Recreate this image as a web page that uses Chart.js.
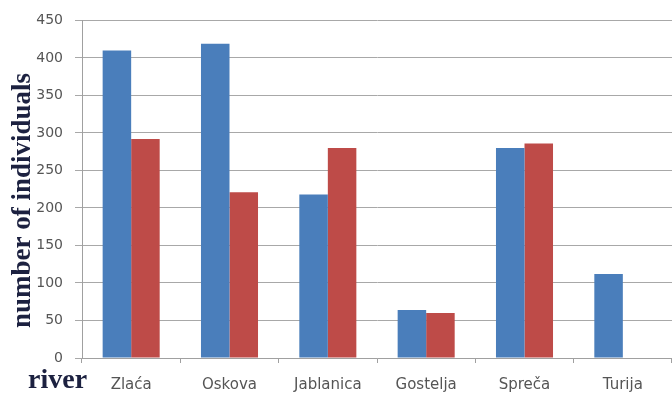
<!DOCTYPE html>
<html>
<head>
<meta charset="utf-8">
<script src="https://cdn.jsdelivr.net/npm/chart.js@4.4.1/dist/chart.umd.min.js"></script>
<style>
  html, body { margin: 0; padding: 0; background: #fff; }
  #wrap { width: 672px; height: 394px; }
</style>
</head>
<body>
<div id="wrap"><canvas id="myChart" width="672" height="394"></canvas></div>
<script>
const RIVERS = ["Zlaća", "Oskova", "Jablanica", "Gostelja", "Spreča", "Turija"];
const BLUE_VALUES = [410, 419, 218, 64, 280, 112];
const RED_VALUES = [292, 221, 280, 60, 286, 0];
const Y_TICKS = [0, 50, 100, 150, 200, 250, 300, 350, 400, 450];

const TITLE_COLOR = '#1c2140';
const LABEL_COLOR = '#555555';

// axis captions: the rotated y title sits a bit above the plot's middle,
// and "river" sits at the bottom-left under the tick labels
const captions = {
    id: 'captions',
    afterDraw(chart) {
        const c = chart.ctx;
        const area = chart.chartArea;
        c.save();
        c.fillStyle = TITLE_COLOR;
        c.font = 'bold 27px "Liberation Serif"';
        c.translate(23, area.bottom - 30);
        c.rotate(-Math.PI / 2);
        c.textAlign = 'left';
        c.textBaseline = 'middle';
        c.fillText('number of individuals', 0, 0);
        c.restore();

        c.save();
        c.font = 'bold 28px "Liberation Serif"';
        c.fillStyle = TITLE_COLOR;
        c.textAlign = 'left';
        c.textBaseline = 'alphabetic';
        c.fillText('river', 28, 388);
        c.restore();
    }
};

const ctx = document.querySelector('#myChart');

var chart = new Chart(ctx, {
    type: 'bar',
    data: {
        labels: RIVERS,
        datasets: [{
            data: BLUE_VALUES,
            backgroundColor: '#4a7ebb'
        }, {
            data: RED_VALUES,
            backgroundColor: '#be4b48'
        }]
    },
    options: {
        responsive: false,
        animation: false,
        layout: { padding: { top: 12, right: 0, bottom: 0, left: 0 } },
        datasets: {
            bar: { categoryPercentage: 0.58, barPercentage: 1.0 }
        },
        plugins: {
            legend: { display: false },
            tooltip: { enabled: false }
        },
        scales: {
            x: {
                grid: {
                    offset: true,
                    drawOnChartArea: false,
                    drawTicks: true,
                    tickLength: 5,
                    color: '#a0a0a0'
                },
                border: { color: '#a0a0a0' },
                ticks: {
                    color: LABEL_COLOR,
                    font: { family: '"DejaVu Sans"', size: 15 },
                    padding: 13,
                    maxRotation: 0
                },
                afterFit(scale) { scale.height = 36; }
            },
            y: {
                min: 0,
                max: 450,
                afterBuildTicks(scale) {
                    scale.ticks = Y_TICKS.map(v => ({ value: v }));
                },
                grid: {
                    color: '#a8a8a8',
                    tickLength: 7
                },
                border: { color: '#a0a0a0' },
                ticks: {
                    color: LABEL_COLOR,
                    font: { family: '"DejaVu Sans"', size: 14 },
                    padding: 12
                },
                afterFit(scale) { scale.width = 82; }
            }
        }
    },
    plugins: [captions]
});
</script>
</body>
</html>
